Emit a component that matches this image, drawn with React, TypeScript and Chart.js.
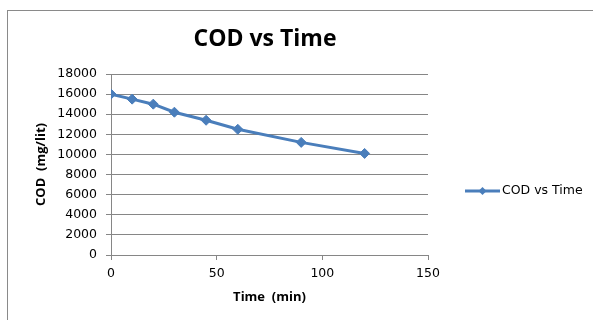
import React, { useEffect, useRef } from "react";
import { Chart, registerables } from "chart.js";

Chart.register(...registerables);

const chartTitle = "COD vs Time";
const seriesLabel = "COD vs Time";
const xAxisTitle = "Time  (min)";
const yAxisTitle = "COD  (mg/lit)";
const timeMin = [0, 10, 20, 30, 45, 60, 90, 120];
const codValues = [16000, 15500, 15000, 14200, 13400, 12500, 11200, 10100];
const xMin = 0, xMax = 150, xStep = 50;
const yMin = 0, yMax = 18000, yStep = 2000;

const BLUE = "#4A7EBB";
const GRID = "#868686";

const decorPlugin = {
  id: "decor",
  afterDraw(chart: any) {
    const ctx = chart.ctx;
    const ds = chart.data.datasets[0];
    ctx.save();
    // title
    ctx.fillStyle = "#000";
    ctx.font = "bold 23px 'Open Sans'";
    ctx.textAlign = "center";
    ctx.textBaseline = "middle";
    ctx.fillText(chartTitle, 265, 39);
    // legend
    const y = 191;
    const x0 = 465, x1 = 500;
    ctx.strokeStyle = BLUE;
    ctx.lineWidth = 3;
    ctx.beginPath();
    ctx.moveTo(x0, y);
    ctx.lineTo(x1, y);
    ctx.stroke();
    ctx.fillStyle = BLUE;
    ctx.beginPath();
    const r = 4;
    const cx = (x0 + x1) / 2;
    ctx.moveTo(cx - r, y);
    ctx.lineTo(cx, y - r);
    ctx.lineTo(cx + r, y);
    ctx.lineTo(cx, y + r);
    ctx.closePath();
    ctx.fill();
    ctx.fillStyle = "#000";
    ctx.font = "12.5px 'DejaVu Sans'";
    ctx.textAlign = "left";
    ctx.fillText(ds.label, x1 + 2, y);
    ctx.restore();
  },
};

export default function App() {
  const ref = useRef<HTMLCanvasElement>(null);
  useEffect(() => {
    document.body.style.margin = "0";
    const chart = new Chart(ref.current!, {
      type: "line",
      data: {
        datasets: [
          {
            label: seriesLabel,
            data: timeMin.map((t, i) => ({ x: t, y: codValues[i] })),
            borderColor: BLUE,
            backgroundColor: BLUE,
            borderWidth: 3,
            pointStyle: "rectRot",
            pointRadius: 5,
            pointBorderWidth: 1,
            pointBackgroundColor: BLUE,
            pointBorderColor: BLUE,
            tension: 0,
          },
        ],
      },
      options: {
        animation: false,
        responsive: false,
        maintainAspectRatio: false,
        layout: { padding: { left: 29, right: 165, top: 74, bottom: 10 } },
        plugins: {
          legend: { display: false },
          tooltip: { enabled: false },
          title: { display: false },
        },
        scales: {
          x: {
            type: "linear",
            min: xMin,
            max: xMax,
            ticks: {
              stepSize: xStep,
              color: "#000",
              font: { family: "'DejaVu Sans'", size: 12.5 },
              padding: 6,
              maxRotation: 0,
              callback: (v: any) => String(v),
            },
            grid: { drawOnChartArea: false, drawTicks: true, tickLength: 5, color: GRID },
            border: { display: true, color: GRID, width: 1 },
            title: {
              display: true,
              text: xAxisTitle,
              color: "#000",
              font: { family: "'Open Sans'", size: 13, weight: "bold" },
              padding: { top: 0, bottom: 5 },
            },
            afterFit(scale: any) {
              scale.height = 55;
            },
          },
          y: {
            type: "linear",
            min: yMin,
            max: yMax,
            ticks: {
              stepSize: yStep,
              color: "#000",
              font: { family: "'DejaVu Sans'", size: 12.5 },
              padding: 9,
              callback: (v: any) => String(v),
            },
            grid: { drawOnChartArea: true, drawTicks: true, tickLength: 5, color: GRID },
            border: { display: true, color: GRID, width: 1 },
            title: {
              display: true,
              text: yAxisTitle,
              color: "#000",
              font: { family: "'Open Sans'", size: 13, weight: "bold" },
              padding: { top: 4, bottom: 0 },
            },
            afterFit(scale: any) {
              scale.width = 82;
            },
          },
        },
      },
      plugins: [decorPlugin],
    });
    return () => chart.destroy();
  }, []);
  return (
    <div style={{ position: "fixed", left: 0, top: 0, width: 593, height: 320, background: "#fff", overflow: "hidden" }}>
      <div
        style={{
          position: "absolute",
          left: 7,
          top: 10,
          width: 700,
          height: 400,
          border: "1px solid #8a8a8a",
          boxSizing: "border-box",
        }}
      />
      <canvas ref={ref} width={593} height={320} style={{ position: "absolute", left: 0, top: 0, width: 593, height: 320 }} />
    </div>
  );
}
